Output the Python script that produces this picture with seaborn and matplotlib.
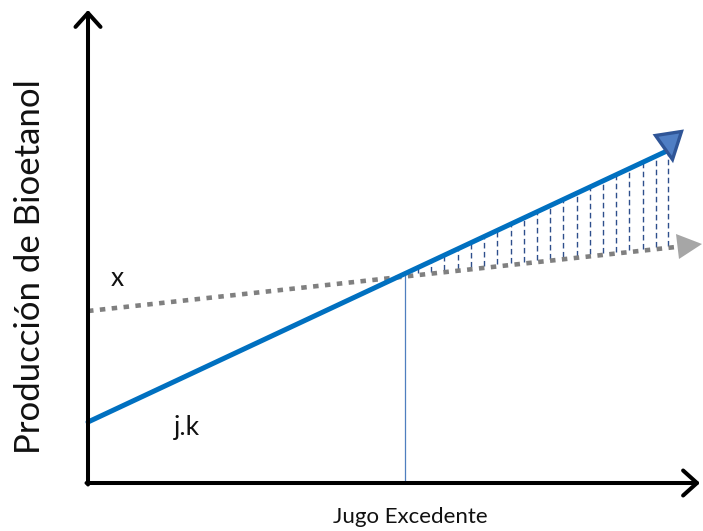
import numpy as np
import pandas as pd
import matplotlib
matplotlib.use("Agg")
import matplotlib.pyplot as plt
from matplotlib.markers import MarkerStyle
from matplotlib.transforms import Affine2D
import seaborn as sns

# ---- data (units measured from the origin of the drawn axes) ----
blue_x = [0, 581]
blue_y = [61, 333]
gray_x = [0, 597]
gray_y = [172, 237]
cross_x = 317
hatch_x = [330, 343, 356, 370, 383, 396, 409, 423, 436, 449, 462, 475,
           489, 502, 515, 528, 541, 555, 568, 580]
x_axis_end = 612
y_axis_end = 473
label_x = "x"
label_jk = "j.k"
xlabel = "Jugo Excedente"
ylabel = "Producción de Bioetanol"

sns.set_style("white")
plt.rcParams['font.family'] = ['Lato', 'DejaVu Sans']

fig = plt.figure(figsize=(7.03, 5.31), dpi=100)
ax = fig.add_axes([0, 0, 1, 1])
ax.set_xlim(-88, 703 - 88)
ax.set_ylim(-48, 483)
ax.axis("off")

# hatch lines between the two lines
hx = np.array(hatch_x, dtype=float)
top = np.interp(hx, blue_x, blue_y)
bot = np.interp(hx, gray_x, gray_y)
ax.vlines(hx, bot + 2, top, colors="#2E4F8C", linewidth=1.0,
          linestyles=(0, (4, 2.5)), zorder=2)

# vertical reference line at crossing
cross_y = np.interp(cross_x, blue_x, blue_y)
ax.vlines([cross_x], 0, cross_y, colors="#4F7FBF", linewidth=0.9, zorder=2)

# gray dotted line
df_gray = pd.DataFrame({"x": gray_x, "y": gray_y})
sns.lineplot(data=df_gray, x="x", y="y", ax=ax, color="#808080",
             linewidth=3.3, linestyle=(0, (1.2, 1.4)), zorder=3)
# gray arrowhead
gm = MarkerStyle(">", transform=Affine2D().rotate_deg(6))
ax.plot([gray_x[-1] + 5], [np.interp(gray_x[-1], gray_x, gray_y) + 1],
        marker=gm, markersize=18, color="#A6A6A6", markeredgewidth=0,
        linestyle="none", zorder=3)

# blue line
df_blue = pd.DataFrame({"x": blue_x, "y": blue_y})
sns.lineplot(data=df_blue, x="x", y="y", ax=ax, color="#0070C0",
             linewidth=3.6, zorder=4)
bm = MarkerStyle("v", transform=Affine2D().rotate_deg(8))
ax.plot([blue_x[-1] + 1], [blue_y[-1] + 4], marker=bm, markersize=19,
        markerfacecolor="#4F7EC4", markeredgecolor="#2F5597",
        markeredgewidth=2.4, linestyle="none", zorder=5)

# axes with open arrowheads
ax.annotate("", xy=(0, y_axis_end), xytext=(0, -1.5),
            arrowprops=dict(arrowstyle="->,head_length=0.5,head_width=0.45",
                            color="black", lw=2.9, mutation_scale=20,
                            shrinkA=0, shrinkB=0), zorder=6)
ax.annotate("", xy=(x_axis_end, 0), xytext=(-1.5, 0),
            arrowprops=dict(arrowstyle="->,head_length=0.5,head_width=0.45",
                            color="black", lw=2.9, mutation_scale=20,
                            shrinkA=0, shrinkB=0), zorder=6)

# texts
ax.text(29, 205, label_x, fontsize=19, ha="center", va="center", color="#111111")
ax.text(99, 55, label_jk, fontsize=19, ha="center", va="center", color="#111111")
ax.text(322, -34, xlabel, fontsize=16, ha="center", va="center", color="#111111")
ax.text(-58, 216, ylabel, fontsize=25, ha="center", va="center",
        rotation=90, color="#111111")

fig.savefig("out.png", dpi=100)
